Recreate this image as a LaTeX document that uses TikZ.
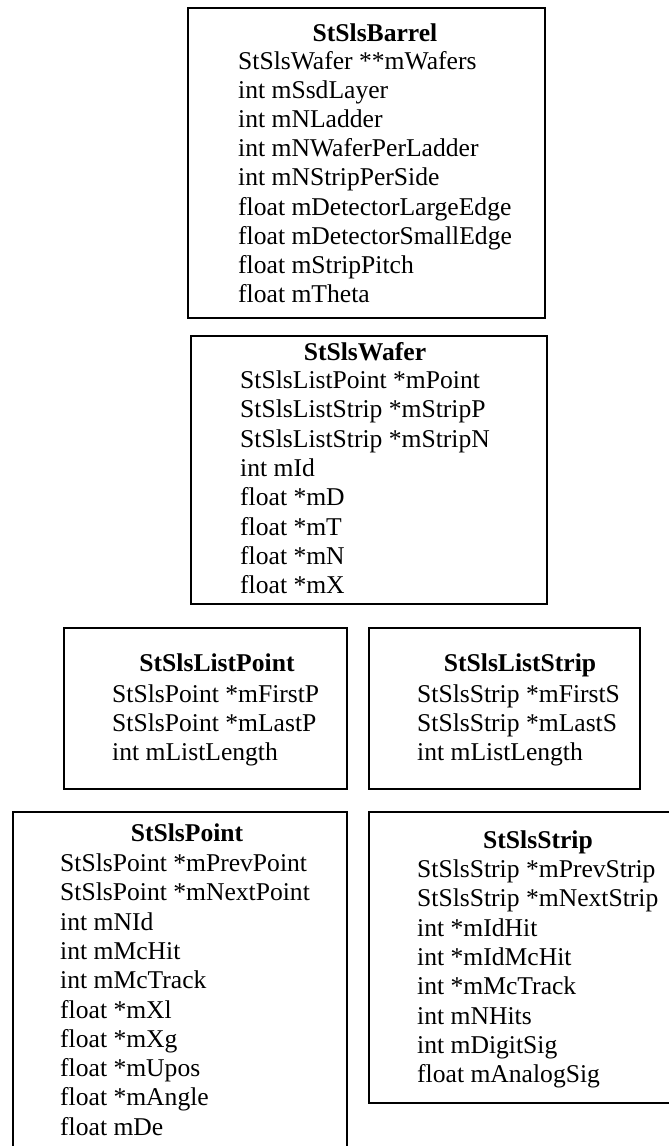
\documentclass[tikz,border=0pt]{standalone}
\usepackage{fontspec}
\setmainfont{Liberation Serif}
\begin{document}
\begin{tikzpicture}[x=1pt,y=-1pt,
  box/.style={draw=black,line width=1.8pt,inner sep=0pt,anchor=north west},
  ttl/.style={font=\fontsize{25.6}{29}\selectfont\bfseries,anchor=base,inner sep=0pt},
  item/.style={font=\fontsize{25.6}{29}\selectfont,anchor=base west,inner sep=0pt}]
\useasboundingbox (0,0) rectangle (669,1146);
% boxes
\node[box,minimum width=357pt,minimum height=310pt] (barrel) at (187,7) {};
\node[box,minimum width=356pt,minimum height=268pt] (wafer) at (190,335) {};
\node[box,minimum width=283pt,minimum height=161pt] (listpoint) at (63,627) {};
\node[box,minimum width=271pt,minimum height=161pt] (liststrip) at (368,627) {};
\node[box,minimum width=334pt,minimum height=360pt] (point) at (12,811) {};
\node[box,minimum width=320pt,minimum height=291pt] (strip) at (368,811) {};
% StSlsBarrel
\node[ttl] (barrel-t) at (375,41) {StSlsBarrel};
\foreach \t [count=\i] in {StSlsWafer **mWafers,int mSsdLayer,int mNLadder,int mNWaferPerLadder,int mNStripPerSide,float mDetectorLargeEdge,float mDetectorSmallEdge,float mStripPitch,float mTheta}
  \node[item] (barrel-\i) at (238,{69.5+29.1*(\i-1)}) {\t};
% StSlsWafer
\node[ttl] (wafer-t) at (365,360) {StSlsWafer};
\foreach \t [count=\i] in {StSlsListPoint *mPoint,StSlsListStrip *mStripP,StSlsListStrip *mStripN,int mId,float *mD,float *mT,float *mN,float *mX}
  \node[item] (wafer-\i) at (240,{388.5+29.3*(\i-1)}) {\t};
% StSlsListPoint
\node[ttl] (listpoint-t) at (217,671) {StSlsListPoint};
\foreach \t [count=\i] in {StSlsPoint *mFirstP,StSlsPoint *mLastP,int mListLength}
  \node[item] (listpoint-\i) at (112,{702.5+29*(\i-1)}) {\t};
% StSlsListStrip
\node[ttl] (liststrip-t) at (520,671) {StSlsListStrip};
\foreach \t [count=\i] in {StSlsStrip *mFirstS,StSlsStrip *mLastS,int mListLength}
  \node[item] (liststrip-\i) at (417,{702.5+29*(\i-1)}) {\t};
% StSlsPoint
\node[ttl] (point-t) at (187,841) {StSlsPoint};
\foreach \t [count=\i] in {StSlsPoint *mPrevPoint,StSlsPoint *mNextPoint,int mNId,int mMcHit,int mMcTrack,float *mXl,float *mXg,float *mUpos,float *mAngle,float mDe}
  \node[item] (point-\i) at (60,{871.5+29.3*(\i-1)}) {\t};
% StSlsStrip
\node[ttl] (strip-t) at (538,848) {StSlsStrip};
\foreach \t [count=\i] in {StSlsStrip *mPrevStrip,StSlsStrip *mNextStrip,int *mIdHit,int *mIdMcHit,int *mMcTrack,int mNHits,int mDigitSig,float mAnalogSig}
  \node[item] (strip-\i) at (417,{877.5+29.3*(\i-1)}) {\t};
\end{tikzpicture}
\end{document}
